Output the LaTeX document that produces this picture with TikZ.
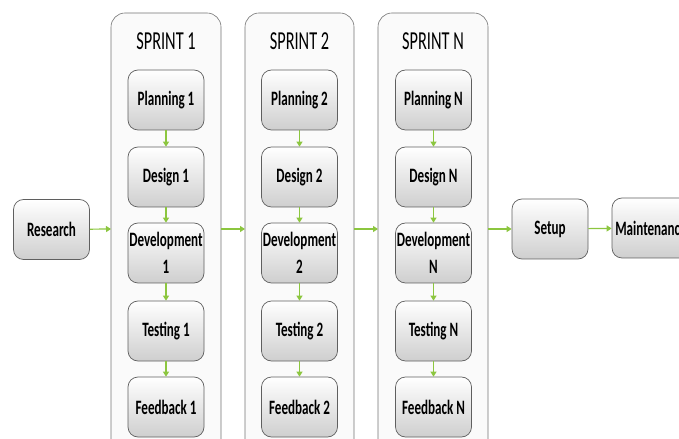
\documentclass[tikz,border=0pt]{standalone}
\usepackage{fontspec}
\usetikzlibrary{arrows.meta,shadings}
\newfontfamily\carlitonarrow[FakeStretch=0.64]{Carlito}
\newfontfamily\carlitotitle[FakeStretch=0.63]{Carlito}
\definecolor{flow}{RGB}{140,198,63}
\definecolor{edge}{RGB}{95,95,95}
\definecolor{lane}{RGB}{250,250,250}
\tikzset{
  stage/.style={draw=edge, line width=0.7pt, rounded corners=10bp,
    top color=white, bottom color=black!19, minimum width=76bp,
    minimum height=60bp, inner sep=0pt, align=center,
    font={\carlitonarrow\bfseries\fontsize{20.5}{27}\selectfont}},
  sprint/.style={draw=black!55, line width=0.6pt, rounded corners=14bp,
    fill=lane},
  ttl/.style={font={\carlitotitle\fontsize{26}{30}\selectfont}},
  flowarrow/.style={draw=flow, line width=1.2pt,
    -{Triangle[width=6bp,length=5bp]}},
}
\begin{document}
\begin{tikzpicture}[x=1bp,y=-1bp]
\useasboundingbox (0,0) rectangle (679,439);
% sprint lanes
\draw[sprint] (111,13) rectangle (221,460);
\draw[sprint] (245,13) rectangle (354,460);
\draw[sprint] (378,13) rectangle (488,460);
\coordinate (l1w) at (111,229); \coordinate (l1e) at (221,229);
\coordinate (l2w) at (245,229); \coordinate (l2e) at (354,229);
\coordinate (l3w) at (378,229); \coordinate (l3e) at (488,229);
\node[ttl] (t1) at (166,41) {SPRINT 1};
\node[ttl] (t2) at (299.5,41) {SPRINT 2};
\node[ttl] (t3) at (433,41) {SPRINT N};
% stages inside each sprint
\foreach \k/\x/\s in {1/166/1, 2/299.5/2, 3/433.5/N}{
  \node[stage] (p\k) at (\x,100) {Planning \s};
  \node[stage] (d\k) at (\x,177) {Design \s};
  \node[stage] (v\k) at (\x,253) {Development\\\s};
  \node[stage] (q\k) at (\x,331) {Testing \s};
  \node[stage] (f\k) at (\x,407) {Feedback \s};
  \draw[flowarrow] (p\k) -- (d\k);
  \draw[flowarrow] (d\k) -- (v\k);
  \draw[flowarrow] (v\k) -- (q\k);
  \draw[flowarrow] (q\k) -- (f\k);
}
% outer stages
\node[stage] (res) at (51.5,229.5) {Research};
\node[stage] (set) at (550,229) {Setup};
\node[stage, minimum width=78bp] (mnt) at (651,228) {Maintenance};
\draw[flowarrow] (res) -- (l1w);
\draw[flowarrow] (l1e) -- (l2w);
\draw[flowarrow] (l2e) -- (l3w);
\draw[flowarrow] (l3e) -- (set);
\draw[flowarrow] (set) -- (mnt);
\end{tikzpicture}
\end{document}
